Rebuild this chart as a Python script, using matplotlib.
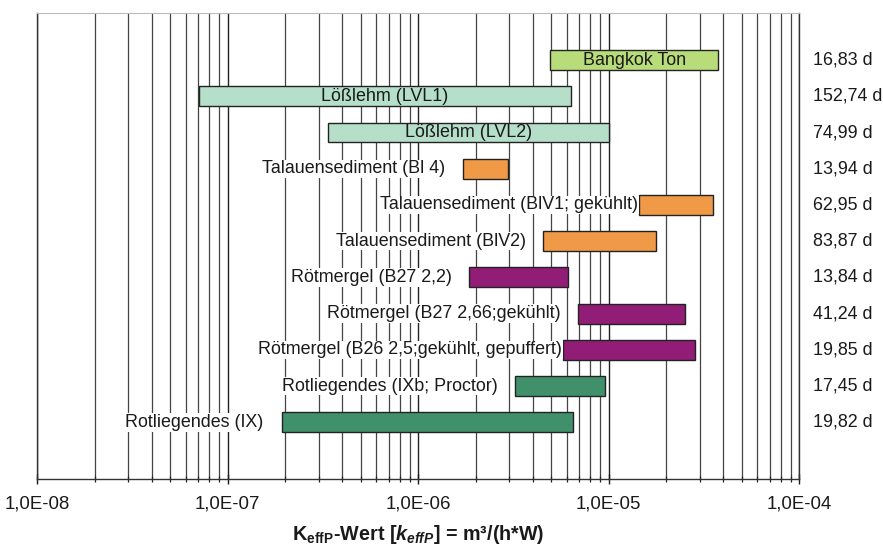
"""K_effP-Wertebereiche verschiedener Böden als Balkendiagramm (log. Achse)."""

import matplotlib

matplotlib.use("Agg")
import matplotlib.pyplot as plt
from matplotlib.ticker import FuncFormatter, LogLocator

plt.rcParams["font.family"] = ["Liberation Sans", "DejaVu Sans"]
plt.rcParams["mathtext.fontset"] = "custom"
plt.rcParams["mathtext.rm"] = "Liberation Sans:bold"
plt.rcParams["mathtext.it"] = "Liberation Sans:bold:italic"
plt.rcParams["mathtext.bf"] = "Liberation Sans:bold"

# Daten
LABELS = [
    "Bangkok Ton",
    "Lößlehm (LVL1)",
    "Lößlehm (LVL2)",
    "Talauensediment (Bl 4)",
    "Talauensediment (BlV1; gekühlt)",
    "Talauensediment (BlV2)",
    "Rötmergel (B27 2,2)",
    "Rötmergel (B27 2,66;gekühlt)",
    "Rötmergel (B26 2,5;gekühlt, gepuffert)",
    "Rotliegendes (IXb; Proctor)",
    "Rotliegendes (IX)",
]
K_MIN = [4.93e-6, 7.03e-8, 3.34e-7, 1.72e-6, 1.445e-5, 4.53e-6,
         1.85e-6, 6.92e-6, 5.77e-6, 3.23e-6, 1.93e-7]
K_MAX = [3.76e-5, 6.31e-6, 1.0e-5, 2.94e-6, 3.54e-5, 1.77e-5,
         6.08e-6, 2.52e-5, 2.82e-5, 9.53e-6, 6.46e-6]
DAUER = ["16,83 d", "152,74 d", "74,99 d", "13,94 d", "62,95 d", "83,87 d",
         "13,84 d", "41,24 d", "19,85 d", "17,45 d", "19,82 d"]

# Farben / Beschriftungsart
COLORS = ["#B9DC7A", "#B5DFC9", "#B5DFC9", "#F09A48", "#F09A48", "#F09A48",
          "#911D76", "#911D76", "#911D76", "#40916B", "#40916B"]
INSIDE = [True, True, True] + [False] * 8
GAP_PX = [0, 0, 0, 18, 1, 17, 17, 18, 1, 18, 19]

FS = 12.9

fig = plt.figure(figsize=(8.83, 5.48), dpi=100)
ax = fig.add_axes([0.0422, 0.1254, 0.8630, 0.8503])

ax.set_xscale("log")
ax.set_xlim(1e-8, 1e-4)
ax.set_ylim(11.57, -1.29)

ypos = list(range(len(LABELS)))
widths = [hi - lo for lo, hi in zip(K_MIN, K_MAX)]
ax.barh(ypos, widths, left=K_MIN, height=0.55, color=COLORS,
        edgecolor="#222222", linewidth=1.0, zorder=3)

# Beschriftungen
for i, lab in enumerate(LABELS):
    if INSIDE[i]:
        xc = (K_MIN[i] * K_MAX[i]) ** 0.5
        ax.text(xc, i, lab, ha="center", va="center", fontsize=FS,
                color="#1a1a1a", zorder=4)
    else:
        ax.annotate(lab, xy=(K_MIN[i], i), xytext=(-GAP_PX[i], 0),
                    textcoords="offset pixels", ha="right", va="center",
                    fontsize=FS, color="#1a1a1a", zorder=4,
                    bbox=dict(facecolor="white", edgecolor="none", pad=0.5))
    ax.text(1.018, i, DAUER[i], transform=ax.get_yaxis_transform(),
            ha="left", va="center", fontsize=FS, color="#1a1a1a")

# Gitter
ax.xaxis.set_major_locator(LogLocator(base=10, numticks=10))
ax.xaxis.set_minor_locator(LogLocator(base=10, subs=range(2, 10), numticks=20))
ax.grid(which="major", axis="x", color="#222222", linewidth=1.0, zorder=1)
ax.grid(which="minor", axis="x", color="#444444", linewidth=0.9, zorder=1)
ax.xaxis.set_major_formatter(FuncFormatter(lambda v, p: f"{v:.1E}".replace(".", ",")))
ax.xaxis.set_minor_formatter(FuncFormatter(lambda v, p: ""))
ax.tick_params(axis="x", which="major", direction="inout", length=7, width=1,
               labelsize=13.4, pad=8, colors="#1a1a1a")
ax.tick_params(axis="x", which="minor", direction="inout", length=5, width=0.9,
               colors="#222222")
ax.set_yticks([])
ax.set_axisbelow(True)

for side in ["left", "right", "bottom"]:
    ax.spines[side].set_color("#333333")
    ax.spines[side].set_linewidth(1.0)
ax.spines["top"].set_color("#BBBBBB")

fig.text(418.3 / 883, 1 - 535 / 548, r"K$_\mathrm{effP}$-Wert [$k_{effP}$] = m³/(h*W)",
         ha="center", va="center", fontsize=14.2, fontweight="bold", color="#1a1a1a")

fig.savefig("out.png", dpi=100)
